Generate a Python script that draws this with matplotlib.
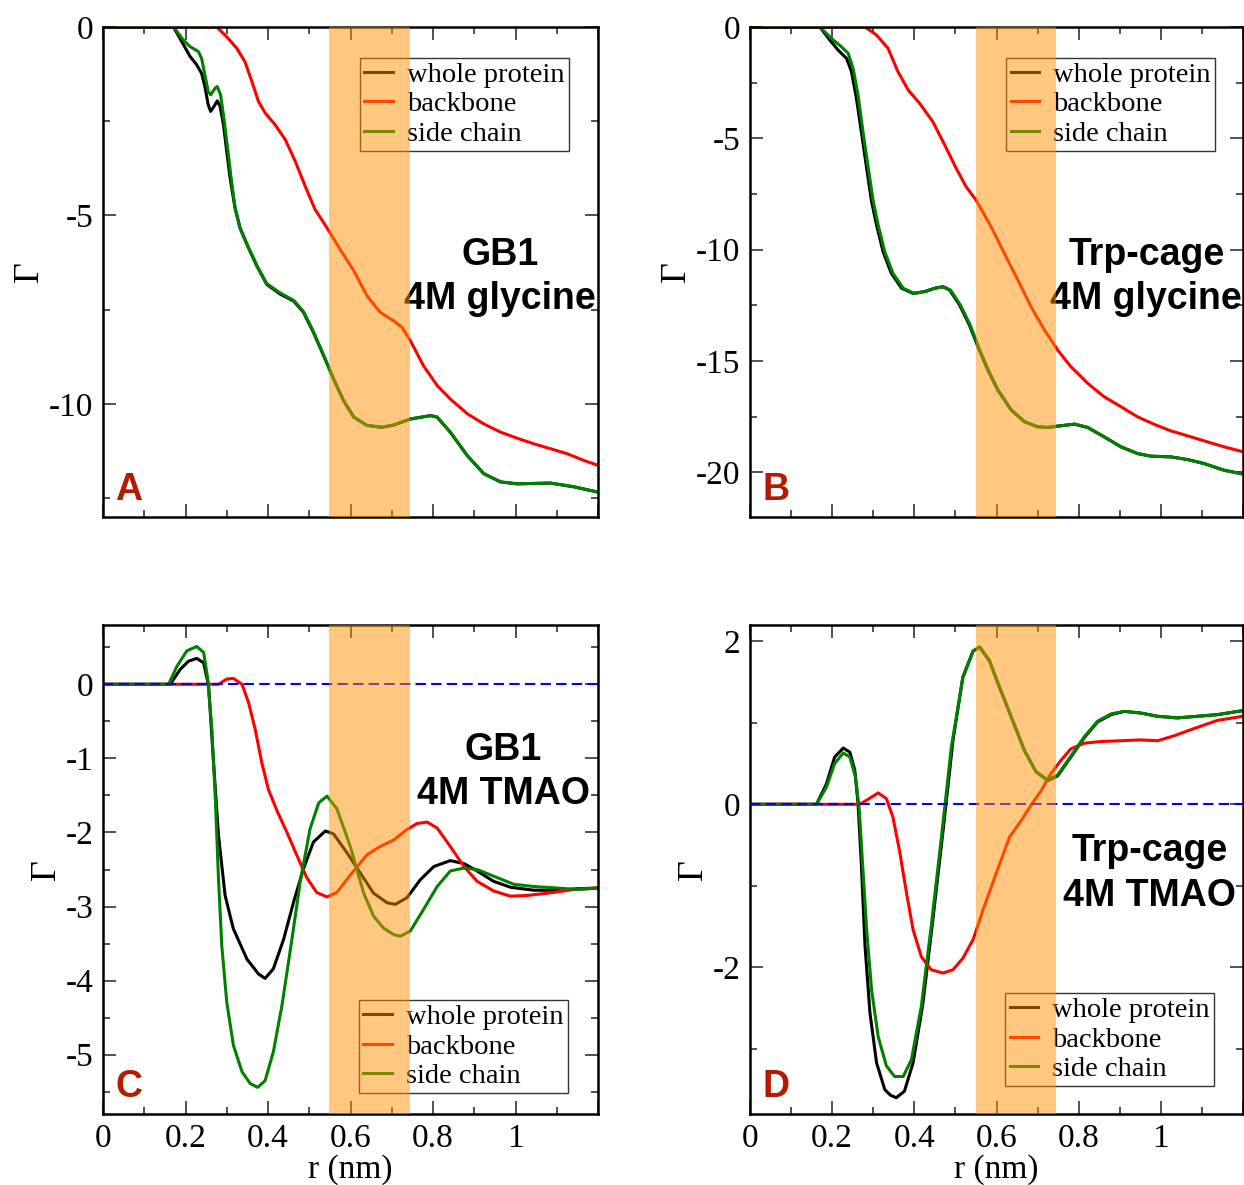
import matplotlib
matplotlib.use("Agg")
import matplotlib.pyplot as plt
from matplotlib.ticker import MultipleLocator, FormatStrFormatter, FuncFormatter

plt.rcParams["font.family"] = ["Liberation Serif", "DejaVu Serif"]
plt.rcParams["axes.unicode_minus"] = False

# ---- panel A: GB1, 4M glycine ----
a_whole_r = [0, 0.171, 0.191, 0.211, 0.227, 0.239, 0.247, 0.255, 0.261, 0.269, 0.277, 0.284, 0.292, 0.30,
             0.308, 0.32, 0.332, 0.349, 0.373, 0.397, 0.43, 0.462, 0.486, 0.51, 0.535, 0.559, 0.583,
             0.608, 0.64, 0.676, 0.705, 0.745, 0.794, 0.81, 0.842, 0.883, 0.923, 0.964, 1.004, 1.085,
             1.142, 1.2]
a_whole = [0, 0, -0.39, -0.78, -1.0, -1.23, -1.58, -2.06, -2.24, -2.11, -1.96, -2.11, -2.59, -3.30,
           -4.0, -4.80, -5.33, -5.77, -6.34, -6.83, -7.09, -7.27, -7.57, -8.10, -8.72, -9.34, -9.91,
           -10.35, -10.57, -10.62, -10.56, -10.40, -10.31, -10.35, -10.75, -11.37, -11.85, -12.07, -12.12, -12.10,
           -12.20, -12.34]
a_side_r = [0, 0.171, 0.195, 0.211, 0.231, 0.239, 0.247, 0.255, 0.261, 0.272, 0.277, 0.285, 0.293, 0.302,
            0.31, 0.32, 0.332, 0.349, 0.373, 0.397, 0.43, 0.462, 0.486, 0.51, 0.535, 0.559, 0.583,
            0.608, 0.64, 0.676, 0.705, 0.745, 0.794, 0.81, 0.842, 0.883, 0.923, 0.964, 1.004, 1.085,
            1.142, 1.2]
a_side = [0, 0, -0.35, -0.52, -0.65, -0.83, -1.27, -1.71, -1.80, -1.62, -1.58, -1.80, -2.42, -3.21,
          -3.95, -4.78, -5.32, -5.76, -6.33, -6.81, -7.06, -7.25, -7.55, -8.08, -8.72, -9.34, -9.91,
          -10.35, -10.57, -10.62, -10.56, -10.40, -10.31, -10.35, -10.75, -11.37, -11.85, -12.07, -12.12, -12.10,
          -12.20, -12.34]
a_back_r = [0, 0.276, 0.30, 0.324, 0.344, 0.361, 0.377, 0.393, 0.417, 0.442, 0.466, 0.49, 0.514, 0.543,
            0.575, 0.608, 0.64, 0.672, 0.705, 0.725, 0.745, 0.777, 0.81, 0.842, 0.883, 0.923, 0.964,
            1.004, 1.045, 1.085, 1.125, 1.166, 1.2]
a_back = [0, 0, -0.26, -0.56, -0.92, -1.45, -1.98, -2.28, -2.59, -2.99, -3.56, -4.22, -4.84, -5.33,
          -5.90, -6.47, -7.13, -7.57, -7.80, -7.97, -8.32, -8.99, -9.51, -9.87, -10.26, -10.53, -10.75,
          -10.91, -11.06, -11.19, -11.32, -11.50, -11.63]

# ---- panel B: Trp-cage, 4M glycine ----
b_whole_r = [0, 0.17, 0.194, 0.214, 0.235, 0.247, 0.259, 0.271, 0.284, 0.296, 0.308, 0.324, 0.344, 0.369,
             0.397, 0.425, 0.449, 0.469, 0.486, 0.51, 0.534, 0.555, 0.579, 0.603, 0.636, 0.668, 0.70,
             0.725, 0.749, 0.79, 0.822, 0.862, 0.903, 0.943, 0.976, 1.024, 1.065, 1.105, 1.154, 1.2]
b_whole = [0, 0, -0.58, -1.03, -1.41, -2.0, -3.2, -4.70, -6.35, -7.84, -8.89, -10.09, -11.06, -11.73,
           -11.96, -11.88, -11.73, -11.66, -11.81, -12.48, -13.38, -14.36, -15.40, -16.30, -17.20, -17.72, -17.95,
           -17.98, -17.92, -17.83, -17.98, -18.40, -18.85, -19.15, -19.27, -19.30, -19.42, -19.60, -19.90, -20.07]
b_side_r = [0, 0.17, 0.198, 0.222, 0.239, 0.251, 0.263, 0.275, 0.288, 0.30, 0.312, 0.328, 0.348, 0.373,
            0.399, 0.427, 0.451, 0.471, 0.488, 0.512, 0.536, 0.556, 0.58, 0.604, 0.636, 0.668, 0.70,
            0.725, 0.749, 0.79, 0.822, 0.862, 0.903, 0.943, 0.976, 1.024, 1.065, 1.105, 1.154, 1.2]
b_side = [0, 0, -0.51, -0.88, -1.18, -1.86, -3.05, -4.70, -6.35, -7.84, -8.89, -10.09, -11.06, -11.73,
          -11.96, -11.88, -11.73, -11.66, -11.81, -12.48, -13.38, -14.36, -15.40, -16.30, -17.20, -17.72, -17.95,
          -17.98, -17.92, -17.83, -17.98, -18.40, -18.85, -19.15, -19.27, -19.30, -19.42, -19.60, -19.90, -20.07]
b_back_r = [0, 0.28, 0.308, 0.336, 0.36, 0.385, 0.413, 0.445, 0.474, 0.502, 0.526, 0.55, 0.587, 0.619,
            0.652, 0.684, 0.717, 0.749, 0.781, 0.822, 0.862, 0.903, 0.943, 0.984, 1.024, 1.073, 1.121,
            1.162, 1.2]
b_back = [0, 0, -0.36, -0.96, -2.0, -2.83, -3.43, -4.25, -5.30, -6.35, -7.17, -7.77, -8.97, -10.16,
          -11.36, -12.56, -13.61, -14.51, -15.25, -16.0, -16.6, -17.05, -17.5, -17.84, -18.13, -18.40, -18.67,
          -18.89, -19.07]

# ---- panel C: GB1, 4M TMAO ----
c_whole_r = [0, 0.163, 0.187, 0.207, 0.227, 0.244, 0.256, 0.268, 0.28, 0.296, 0.316, 0.349, 0.377, 0.393,
             0.413, 0.438, 0.462, 0.486, 0.51, 0.539, 0.559, 0.591, 0.624, 0.656, 0.689, 0.709, 0.737,
             0.769, 0.802, 0.842, 0.875, 0.907, 0.947, 0.988, 1.045, 1.101, 1.15, 1.2]
c_whole = [0, 0, 0.20, 0.31, 0.35, 0.29, -0.02, -1.06, -2.04, -2.85, -3.30, -3.71, -3.91, -3.97,
           -3.84, -3.44, -2.94, -2.49, -2.13, -1.98, -2.02, -2.27, -2.55, -2.82, -2.95, -2.97, -2.88,
           -2.64, -2.46, -2.38, -2.42, -2.52, -2.66, -2.74, -2.78, -2.78, -2.76, -2.75]
c_side_r = [0, 0.159, 0.179, 0.203, 0.227, 0.244, 0.254, 0.264, 0.272, 0.28, 0.288, 0.30, 0.316, 0.337,
            0.357, 0.375, 0.393, 0.413, 0.434, 0.458, 0.478, 0.502, 0.523, 0.543, 0.567, 0.599, 0.632,
            0.656, 0.68, 0.705, 0.721, 0.745, 0.777, 0.81, 0.842, 0.875, 0.907, 0.947, 0.996, 1.045,
            1.101, 1.15, 1.2]
c_side = [0, 0, 0.24, 0.45, 0.51, 0.43, 0.07, -0.61, -1.50, -2.63, -3.53, -4.29, -4.87, -5.23,
          -5.39, -5.44, -5.35, -4.96, -4.33, -3.44, -2.67, -1.95, -1.60, -1.51, -1.68, -2.18, -2.82,
          -3.13, -3.29, -3.38, -3.40, -3.33, -3.04, -2.73, -2.52, -2.48, -2.50, -2.59, -2.70, -2.73,
          -2.75, -2.77, -2.75]
c_back_r = [0, 0.28, 0.30, 0.316, 0.337, 0.353, 0.369, 0.385, 0.401, 0.422, 0.446, 0.47, 0.494, 0.518,
            0.543, 0.567, 0.599, 0.64, 0.672, 0.705, 0.737, 0.761, 0.786, 0.81, 0.842, 0.875, 0.907,
            0.947, 0.988, 1.028, 1.077, 1.142, 1.2]
c_back = [0, 0, 0.07, 0.08, 0.0, -0.25, -0.61, -1.06, -1.42, -1.71, -2.00, -2.31, -2.61, -2.81,
          -2.87, -2.81, -2.58, -2.30, -2.19, -2.10, -1.96, -1.88, -1.86, -1.94, -2.19, -2.46, -2.66,
          -2.79, -2.86, -2.85, -2.82, -2.77, -2.75]

# ---- panel D: Trp-cage, 4M TMAO ----
d_whole_r = [0, 0.162, 0.186, 0.206, 0.227, 0.243, 0.255, 0.263, 0.271, 0.28, 0.292, 0.308, 0.328, 0.342,
             0.356, 0.376, 0.397, 0.421, 0.445, 0.47, 0.494, 0.518, 0.543, 0.559, 0.583, 0.607, 0.636,
             0.668, 0.696, 0.725, 0.749, 0.781, 0.814, 0.846, 0.879, 0.911, 0.951, 0.992, 1.04, 1.089,
             1.138, 1.2]
d_whole = [0, 0, 0.25, 0.58, 0.69, 0.64, 0.42, 0.01, -0.73, -1.74, -2.56, -3.17, -3.50, -3.57,
           -3.60, -3.52, -3.17, -2.44, -1.42, -0.32, 0.78, 1.56, 1.88, 1.93, 1.76, 1.44, 1.07,
           0.66, 0.40, 0.29, 0.35, 0.58, 0.82, 1.01, 1.10, 1.14, 1.12, 1.08, 1.06, 1.08,
           1.10, 1.15]
d_side_r = [0, 0.162, 0.186, 0.206, 0.227, 0.243, 0.257, 0.266, 0.274, 0.284, 0.296, 0.312, 0.332, 0.352,
            0.373, 0.393, 0.417, 0.441, 0.466, 0.49, 0.518, 0.543, 0.559, 0.583, 0.607, 0.636, 0.668,
            0.696, 0.725, 0.749, 0.781, 0.814, 0.846, 0.879, 0.911, 0.951, 0.992, 1.04, 1.089, 1.138, 1.2]
d_side = [0, 0, 0.21, 0.50, 0.63, 0.58, 0.33, -0.07, -0.73, -1.54, -2.28, -2.85, -3.21, -3.34,
          -3.34, -3.13, -2.48, -1.50, -0.40, 0.70, 1.55, 1.88, 1.93, 1.76, 1.44, 1.07, 0.66,
          0.40, 0.30, 0.36, 0.59, 0.83, 1.02, 1.11, 1.14, 1.12, 1.08, 1.06, 1.08, 1.10, 1.15]
d_back_r = [0, 0.267, 0.284, 0.312, 0.332, 0.348, 0.364, 0.381, 0.397, 0.417, 0.441, 0.47, 0.494, 0.518,
            0.543, 0.567, 0.599, 0.632, 0.66, 0.684, 0.709, 0.733, 0.757, 0.781, 0.814, 0.854, 0.903,
            0.951, 0.992, 1.032, 1.081, 1.138, 1.2]
d_back = [0, 0, 0.05, 0.14, 0.07, -0.16, -0.57, -1.09, -1.54, -1.87, -2.03, -2.07, -2.03, -1.89,
          -1.66, -1.30, -0.85, -0.40, -0.20, -0.01, 0.17, 0.38, 0.54, 0.68, 0.75, 0.77, 0.78,
          0.79, 0.78, 0.84, 0.93, 1.03, 1.08]

series_labels = ["whole protein", "backbone", "side chain"]
panel_titles = ["GB1\n4M glycine", "Trp-cage\n4M glycine", "GB1\n4M TMAO", "Trp-cage\n4M TMAO"]
panel_letters = ["A", "B", "C", "D"]
band = (0.549, 0.745)

W, H = 1244, 1185
fig = plt.figure(figsize=(W / 100, H / 100), dpi=100)


def px_axes(x0, y0, x1, y1):
    return fig.add_axes([x0 / W, 1 - y1 / H, (x1 - x0) / W, (y1 - y0) / H])


def r_label(v, pos):
    # the 1.2 tick sits on the right frame and carries no label
    return "" if v > 1.1 else "%g" % v


def draw_panel(ax, whole, back, side, ylim, major, minor, title, title_xy, letter,
               leg_xy, zero_line, xlabel):
    ax.plot(*whole, color="black", lw=2.2, label=series_labels[0], zorder=2)
    ax.plot(*back, color="red", lw=2.2, label=series_labels[1], zorder=2)
    ax.plot(*side, color="#008000", lw=2.2, label=series_labels[2], zorder=2)
    if zero_line:
        ax.axhline(0, color="blue", lw=1.5, ls=(0, (5, 2.5)), zorder=3)
    ax.set_xlim(0, 1.2)
    ax.set_ylim(*ylim)
    ax.xaxis.set_major_locator(MultipleLocator(0.2))
    ax.xaxis.set_minor_locator(MultipleLocator(0.1))
    ax.yaxis.set_major_locator(MultipleLocator(major))
    ax.yaxis.set_minor_locator(MultipleLocator(minor))
    ax.xaxis.set_major_formatter(FuncFormatter(r_label))
    ax.yaxis.set_major_formatter(FormatStrFormatter("%g"))
    ax.tick_params(which="both", direction="in", top=True, right=True, width=1.1,
                   labelsize=24, color="#222222")
    ax.tick_params(which="major", length=9.5, pad=7)
    ax.tick_params(which="minor", length=5)
    if not xlabel:
        ax.tick_params(labelbottom=False)
    else:
        ax.set_xlabel("r (nm)", fontsize=24, labelpad=0)
    ax.set_ylabel("\u0393", fontsize=26, labelpad=2)
    for sp in ax.spines.values():
        sp.set_linewidth(1.8)
    ax.text(title_xy[0], title_xy[1], title, transform=ax.transAxes, ha="center", va="center",
            multialignment="center", fontsize=27, fontweight="bold",
            family=["Liberation Sans", "DejaVu Sans"], linespacing=1.3, zorder=3)
    ax.text(0.025, 0.035, letter, transform=ax.transAxes, ha="left", va="baseline",
            fontsize=27, fontweight="bold", color="#B31B00",
            family=["Liberation Sans", "DejaVu Sans"], zorder=3)
    leg = ax.legend(loc="upper left", bbox_to_anchor=leg_xy, borderaxespad=0, fontsize=20.5,
                    frameon=True, fancybox=False, framealpha=1, edgecolor="#333333",
                    handlelength=1.0, handletextpad=0.5, labelspacing=0.12, borderpad=0.15)
    leg.get_frame().set_linewidth(1.0)
    leg.set_zorder(4)
    ax.axvspan(band[0], band[1], color="#FF9100", alpha=0.5, lw=0, zorder=10)


ax_a = px_axes(103, 27, 598, 517)
ax_b = px_axes(750, 27, 1243, 517)
ax_c = px_axes(103, 625, 598, 1114)
ax_d = px_axes(750, 625, 1243, 1114)

draw_panel(ax_a, (a_whole_r, a_whole), (a_back_r, a_back), (a_side_r, a_side), (-13, 0), 5, 2.5,
           panel_titles[0], (0.802, 0.49), panel_letters[0], (0.519, 0.937), False, False)
draw_panel(ax_b, (b_whole_r, b_whole), (b_back_r, b_back), (b_side_r, b_side), (-22, 0), 5, 2.5,
           panel_titles[1], (0.804, 0.49), panel_letters[1], (0.520, 0.937), False, False)
draw_panel(ax_c, (c_whole_r, c_whole), (c_back_r, c_back), (c_side_r, c_side), (-5.8, 0.8), 1, 0.5,
           panel_titles[2], (0.809, 0.70), panel_letters[2], (0.517, 0.233), True, True)
draw_panel(ax_d, (d_whole_r, d_whole), (d_back_r, d_back), (d_side_r, d_side), (-3.8, 2.2), 2, 1,
           panel_titles[3], (0.81, 0.492), panel_letters[3], (0.518, 0.247), True, True)

fig.savefig("out.png", dpi=100)
